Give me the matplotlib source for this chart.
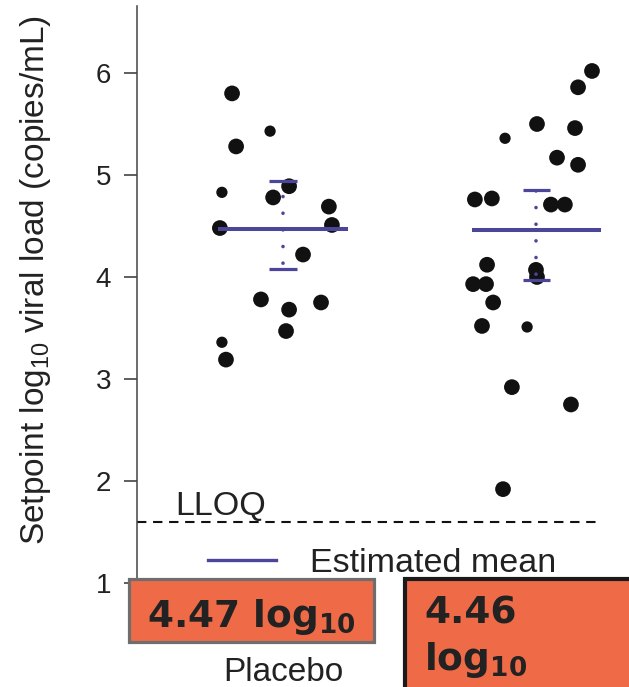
import matplotlib
matplotlib.use('Agg')
import matplotlib.pyplot as plt
import matplotlib.patches as mpatches
from matplotlib.lines import Line2D
import numpy as np

plt.rcParams['font.family'] = ['Liberation Sans', 'DejaVu Sans']
plt.rcParams['mathtext.fontset'] = 'custom'
plt.rcParams['mathtext.rm'] = 'Liberation Sans'
plt.rcParams['mathtext.bf'] = 'DejaVu Sans:bold'

# data
groups = ['Placebo', '']
g1_off = [-0.201, -0.051, -0.185, -0.241, -0.039, 0.024, 0.181, -0.249,
          0.193, 0.079, -0.087, 0.024, 0.150, 0.012, -0.241, -0.225]
g1_val = [5.80, 5.43, 5.28, 4.83, 4.78, 4.89, 4.69, 4.48,
          4.51, 4.22, 3.78, 3.68, 3.75, 3.47, 3.36, 3.19]
g1_small = [1, 3, 14]
g2_off = [0.219, 0.164, 0.002, 0.152, -0.124, 0.081, 0.164, -0.243, -0.176,
          0.057, 0.112, -0.195, -0.002, 0.002, -0.250, -0.199, -0.171,
          -0.215, -0.037, -0.097, 0.136, -0.132]
g2_val = [6.02, 5.86, 5.50, 5.46, 5.36, 5.17, 5.10, 4.76, 4.77, 4.71, 4.71,
          4.12, 4.07, 4.00, 3.93, 3.93, 3.75, 3.52, 3.51, 2.92, 2.75, 1.92]
g2_small = [4, 18]
means = [4.47, 4.46]
ci_low = [4.08, 3.97]
ci_high = [4.94, 4.85]
LLOQ = 1.6

blue = '#4b4699'
orange = '#ef6b48'

fig = plt.figure(figsize=(6.29, 6.87), dpi=100)
ax = fig.add_axes([137/629, 87/687, 492/629, 594/687])

for i, (offs, vals, small) in enumerate([(g1_off, g1_val, g1_small),
                                          (g2_off, g2_val, g2_small)]):
    xs = np.array(offs) + i + 1
    sizes = [66 if k in small else 128 for k in range(len(vals))]
    ax.scatter(xs, vals, s=sizes, color='#111111', edgecolors='none', zorder=2)
    # mean and interval
    ax.hlines(means[i], i + 1 - 0.255, i + 1 + 0.255, color=blue, lw=2.9, zorder=3)
    ax.hlines([ci_low[i], ci_high[i]], i + 1 - 0.054, i + 1 + 0.054,
              color=blue, lw=2.3, zorder=3)
    ax.plot([i + 1, i + 1], [ci_low[i], ci_high[i]], color=blue, lw=2.6,
            linestyle=(3, (0.01, 4.6)), dash_capstyle='round', zorder=3)

ax.hlines(LLOQ, 0.424, 2.25, color='#111111', lw=1.5, linestyle=(0, (4.5, 3.2)))
ax.text(0.574, LLOQ + 0.07, 'LLOQ', fontsize=24.5, color='#222222', va='baseline')

ax.set_xlim(0.424, 2.365)
ax.set_ylim(0.833, 6.657)
ax.set_yticks([1, 2, 3, 4, 5, 6])
ax.set_xticks([1, 2], groups)
ax.tick_params(axis='y', labelsize=20, length=9.5, width=1.1, pad=9,
               colors='#333333', labelcolor='#222222')
ax.tick_params(axis='x', length=0, labelsize=24, pad=41, labelcolor='#222222')
for s in ['top', 'right', 'bottom']:
    ax.spines[s].set_visible(False)
ax.spines['left'].set_color('#444444')
ax.spines['left'].set_linewidth(1.1)
ax.set_ylabel('Setpoint log$_{\\mathrm{10}}$ viral load (copies/mL)',
              fontsize=24, color='#222222')
ax.yaxis.set_label_coords(-0.171, 0.539)

leg = fig.legend(handles=[Line2D([], [], color=blue, lw=2.4)],
                 labels=['Estimated mean'], loc='center left',
                 bbox_to_anchor=(208/629, 1 - 563/687), frameon=False,
                 fontsize=24.5, handlelength=2.0, handletextpad=1.0,
                 borderpad=0, borderaxespad=0)
for t in leg.get_texts():
    t.set_color('#222222')

# boxes with the mean values
box1 = mpatches.Rectangle((128.5/629, 1 - 641.5/687), 245/629, 63/687,
                          transform=fig.transFigure, facecolor=orange,
                          edgecolor='#6e6e6e', lw=2.3, zorder=5)
box2 = mpatches.Rectangle((405/629, 1 - 700/687), 240/629, 121/687,
                          transform=fig.transFigure, facecolor=orange,
                          edgecolor='#1a1a1a', lw=3.0, zorder=5)
fig.add_artist(box1)
fig.add_artist(box2)

fig.text(251/629, 1 - 627/687, f'{means[0]:.2f} log$_{{\\mathbf{{10}}}}$',
         fontsize=27, fontweight='bold', family='DejaVu Sans', color='#222222',
         ha='center', va='baseline', zorder=6)
fig.text(424/629, 1 - 623/687, f'{means[1]:.2f}', fontsize=27,
         fontweight='bold', family='DejaVu Sans', color='#222222',
         ha='left', va='baseline', zorder=6)
fig.text(424/629, 1 - 670/687, 'log$_{\\mathbf{10}}$', fontsize=27,
         fontweight='bold', family='DejaVu Sans', color='#222222',
         ha='left', va='baseline', zorder=6)

fig.savefig('out.png', dpi=100)
